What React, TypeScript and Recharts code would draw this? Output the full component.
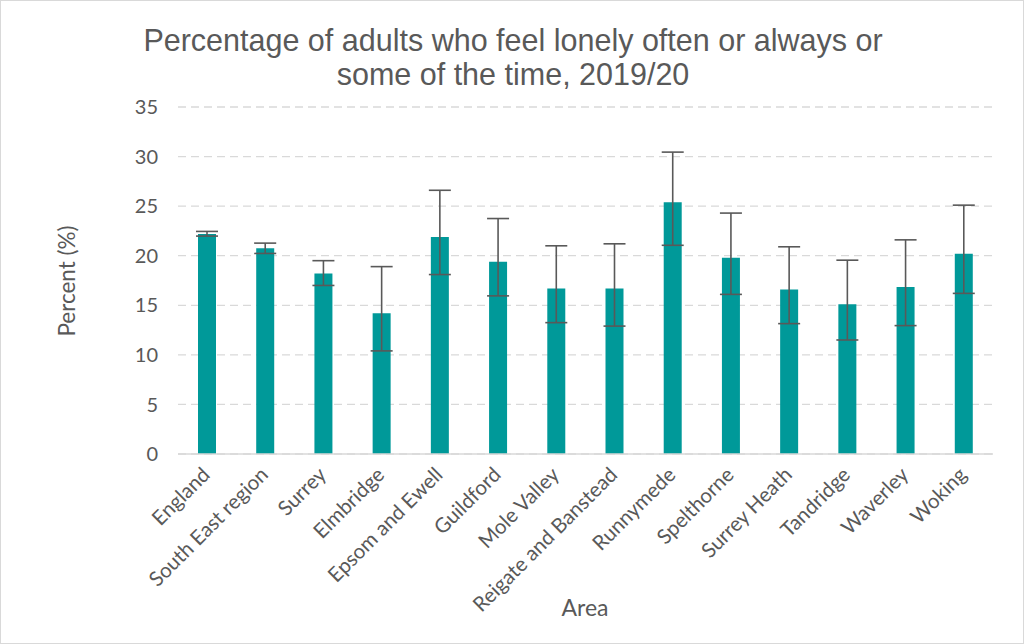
import React from 'react';
import { BarChart, Bar, XAxis, YAxis, CartesianGrid, ErrorBar } from 'recharts';

const areas = [
  'England', 'South East region', 'Surrey', 'Elmbridge', 'Epsom and Ewell', 'Guildford',
  'Mole Valley', 'Reigate and Banstead', 'Runnymede', 'Spelthorne', 'Surrey Heath',
  'Tandridge', 'Waverley', 'Woking',
];
const percent = [22.2, 20.75, 18.2, 14.2, 21.9, 19.4, 16.7, 16.7, 25.4, 19.8, 16.6, 15.1, 16.85, 20.2];
const lowerCI = [21.98, 20.23, 17.0, 10.4, 18.1, 15.95, 13.25, 12.9, 21.05, 16.1, 13.15, 11.5, 12.95, 16.2];
const upperCI = [22.45, 21.27, 19.5, 18.9, 26.6, 23.75, 21.0, 21.2, 30.45, 24.3, 20.9, 19.55, 21.6, 25.1];
const yTicks = [0, 5, 10, 15, 20, 25, 30, 35];

const data = areas.map((area, i) => ({
  area,
  value: percent[i],
  err: [percent[i] - lowerCI[i], upperCI[i] - percent[i]],
}));

const textColor = '#595959';
const tickFont = 'Lato, "Open Sans", sans-serif';

const AreaTick = (props: any) => {
  const { x, y, payload } = props;
  return (
    <text
      x={x + 4}
      y={y + 14}
      transform={`rotate(-45, ${x + 4}, ${y + 14})`}
      textAnchor="end"
      fill={textColor}
      fontSize={20.5}
      fontFamily={tickFont}
    >
      {payload.value}
    </text>
  );
};

export default function App() {
  return (
    <div
      style={{
        position: 'absolute',
        left: 0,
        top: 0,
        width: 1022,
        height: 642,
        border: '1px solid #d9d9d9',
        background: '#fff',
        overflow: 'hidden',
      }}
    >
      <div
        style={{
          position: 'absolute',
          left: 0,
          top: 22,
          width: 1024,
          textAlign: 'center',
          fontFamily: '"Liberation Sans", Arial, sans-serif',
          fontSize: 30.5,
          lineHeight: '34px',
          color: textColor,
        }}
      >
        Percentage of adults who feel lonely often or always or
        <br />
        some of the time, 2019/20
      </div>
      <div
        style={{
          position: 'absolute',
          left: 65,
          top: 280,
          transform: 'translate(-50%, -50%) rotate(-90deg)',
          whiteSpace: 'nowrap',
          fontFamily: tickFont,
          fontSize: 22.5,
          color: textColor,
        }}
      >
        Percent (%)
      </div>
      <div
        style={{
          position: 'absolute',
          left: 584,
          top: 606,
          transform: 'translate(-50%, -50%)',
          fontFamily: tickFont,
          fontSize: 23,
          color: textColor,
        }}
      >
        Area
      </div>
      <BarChart
        width={1024}
        height={644}
        data={data}
        margin={{ top: 106, right: 32, bottom: 61, left: 97 }}
        barCategoryGap="34%"
      >
        <CartesianGrid vertical={false} stroke="#d9d9d9" strokeDasharray="8 5" strokeWidth={1.3} />
        <XAxis
          dataKey="area"
          interval={0}
          height={130}
          tick={<AreaTick />}
          tickLine={false}
          axisLine={{ stroke: '#d9d9d9', strokeWidth: 1.3 }}
        />
        <YAxis
          domain={[0, 35]}
          ticks={yTicks}
          width={80}
          axisLine={false}
          tickLine={false}
          tickMargin={14}
          tick={{ fill: textColor, fontSize: 20, fontFamily: tickFont }}
        />
        <Bar dataKey="value" fill="#009999" barSize={18} isAnimationActive={false}>
          <ErrorBar dataKey="err" width={11} stroke="#595959" strokeWidth={1.6} />
        </Bar>
      </BarChart>
    </div>
  );
}
